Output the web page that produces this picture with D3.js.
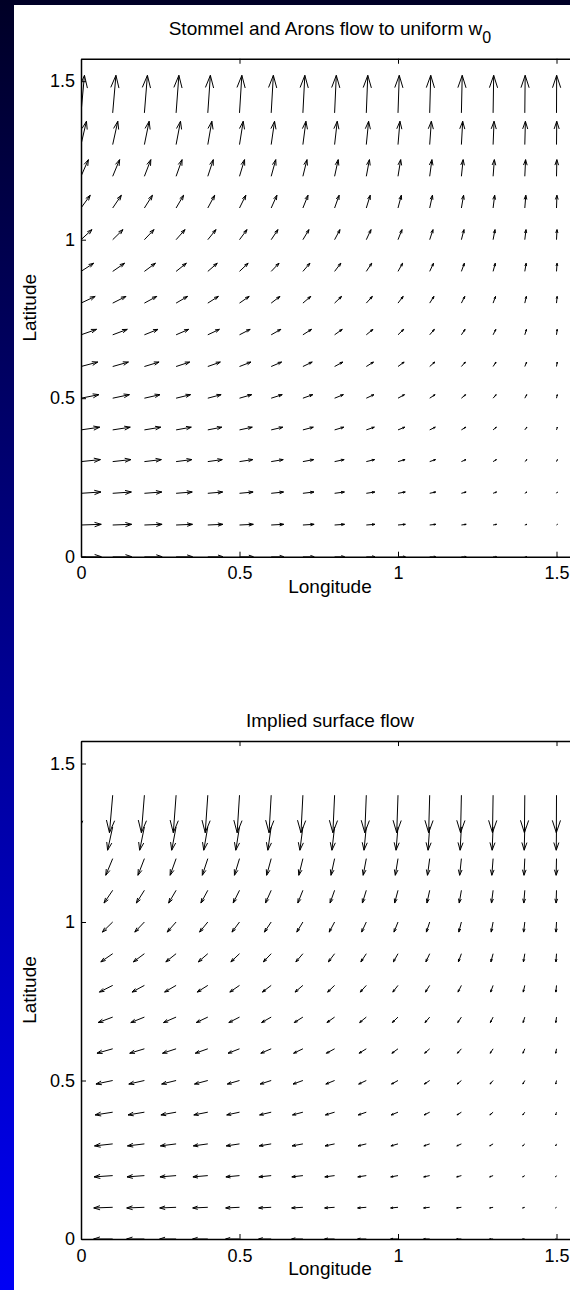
<!DOCTYPE html>
<html>
<head>
<meta charset="utf-8">
<script src="https://cdn.jsdelivr.net/npm/d3@7"></script>
<style>
  body { margin: 0; background: #fff; }
  svg { display: block; }
  text { font-family: "Liberation Sans", Arial, Helvetica, sans-serif; fill: #000; }
</style>
</head>
<body>
<svg id="fig" width="570" height="1290"></svg>
<script>
// Grid of arrow tails (radians of longitude / latitude)
const lonGrid = [0, 0.1, 0.2, 0.3, 0.4, 0.5, 0.6, 0.7, 0.8, 0.9, 1.0, 1.1, 1.2, 1.3, 1.4, 1.5];
const latGrid = [0, 0.1, 0.2, 0.3, 0.4, 0.5, 0.6, 0.7, 0.8, 0.9, 1.0, 1.1, 1.2, 1.3, 1.4];

// Deep flow components as drawn by the quiver (thousandths of a radian).
// Northward component is the same along each latitude row.
const vRow = [0, 2.1, 4.1, 6.3, 8.6, 11.2, 14.0, 17.2, 21.1, 25.8, 31.8, 40.2, 52.6, 73.6, 118.5];

// Eastward component, one row per latitude, one column per longitude
const uGrid = [
  [64.2, 60.1, 56.0, 51.9, 47.9, 43.8, 39.7, 35.6, 31.5, 27.4, 23.3, 19.2, 15.2, 11.1, 7.0, 2.9],
  [63.9, 59.8, 55.8, 51.7, 47.6, 43.6, 39.5, 35.4, 31.4, 27.3, 23.2, 19.2, 15.1, 11.0, 6.9, 2.9],
  [62.9, 58.9, 54.9, 50.9, 46.9, 42.9, 38.9, 34.9, 30.9, 26.9, 22.9, 18.9, 14.9, 10.9, 6.8, 2.8],
  [61.3, 57.4, 53.5, 49.6, 45.7, 41.8, 37.9, 34.0, 30.1, 26.2, 22.3, 18.4, 14.5, 10.6, 6.7, 2.8],
  [59.1, 55.4, 51.6, 47.9, 44.1, 40.3, 36.6, 32.8, 29.0, 25.3, 21.5, 17.7, 14.0, 10.2, 6.4, 2.7],
  [56.4, 52.8, 49.2, 45.6, 42.0, 38.4, 34.8, 31.2, 27.7, 24.1, 20.5, 16.9, 13.3, 9.7, 6.1, 2.5],
  [53.0, 49.6, 46.3, 42.9, 39.5, 36.1, 32.8, 29.4, 26.0, 22.6, 19.3, 15.9, 12.5, 9.1, 5.8, 2.4],
  [49.1, 46.0, 42.9, 39.7, 36.6, 33.5, 30.4, 27.2, 24.1, 21.0, 17.9, 14.7, 11.6, 8.5, 5.3, 2.2],
  [44.7, 41.9, 39.0, 36.2, 33.4, 30.5, 27.7, 24.8, 22.0, 19.1, 16.3, 13.4, 10.6, 7.7, 4.9, 2.0],
  [39.9, 37.4, 34.8, 32.3, 29.8, 27.2, 24.7, 22.1, 19.6, 17.1, 14.5, 12.0, 9.4, 6.9, 4.3, 1.8],
  [34.7, 32.5, 30.3, 28.1, 25.9, 23.7, 21.4, 19.2, 17.0, 14.8, 12.6, 10.4, 8.2, 6.0, 3.8, 1.6],
  [29.1, 27.3, 25.4, 23.6, 21.7, 19.9, 18.0, 16.1, 14.3, 12.4, 10.6, 8.7, 6.9, 5.0, 3.2, 1.3],
  [23.3, 21.8, 20.3, 18.8, 17.3, 15.9, 14.4, 12.9, 11.4, 9.9, 8.5, 7.0, 5.5, 4.0, 2.5, 1.1],
  [17.2, 16.1, 15.0, 13.9, 12.8, 11.7, 10.6, 9.5, 8.4, 7.3, 6.2, 5.2, 4.1, 3.0, 1.9, 0.8],
  [10.9, 10.2, 9.5, 8.8, 8.1, 7.4, 6.8, 6.1, 5.4, 4.7, 4.0, 3.3, 2.6, 1.9, 1.2, 0.5]
];

const tickValues = [0, 0.5, 1, 1.5];
const tickLabels = ["0", "0.5", "1", "1.5"];
const lonMax = 1.5708;
const latMax = 1.5708;

const svg = d3.select("#fig");

// Slide background: white page on a blue gradient frame
const defs = svg.append("defs");
const grad = defs.append("linearGradient")
  .attr("id", "slideBg").attr("x1", 0).attr("y1", 0).attr("x2", 0).attr("y2", 1);
grad.append("stop").attr("offset", 0).attr("stop-color", "rgb(0,0,38)");
grad.append("stop").attr("offset", 1).attr("stop-color", "rgb(0,0,245)");
svg.append("rect").attr("width", 570).attr("height", 1290).attr("fill", "url(#slideBg)");
svg.append("rect").attr("x", 14).attr("y", 5).attr("width", 556).attr("height", 1285).attr("fill", "#fff");

const AX_LEFT = 81;
const PX_PER_RAD = 317;
const HEAD_A = 0.33, HEAD_B = 0.33;

function drawPanel(cfg) {
  const x = d3.scaleLinear().domain([0, lonMax]).range([AX_LEFT, AX_LEFT + PX_PER_RAD * lonMax]);
  const y = d3.scaleLinear().domain([0, latMax]).range([cfg.bottom, cfg.bottom - PX_PER_RAD * latMax]);
  const g = svg.append("g");

  const clipId = "clip-" + cfg.id;
  defs.append("clipPath").attr("id", clipId)
    .append("rect")
    .attr("x", x(0)).attr("y", y(latMax))
    .attr("width", x(lonMax) - x(0)).attr("height", y(0) - y(latMax));

  // Quiver arrows: shaft from the tail plus an open two-stroke head
  const arrows = [];
  latGrid.forEach((lat, i) => {
    lonGrid.forEach((lon, j) => {
      const u = cfg.sign * uGrid[i][j] / 1000 * cfg.scale;
      const v = cfg.sign * vRow[i] / 1000 * cfg.scale;
      arrows.push({ lon, lat, u, v });
    });
  });
  const arrowPath = d => {
    const tx = d.lon + d.u, ty = d.lat + d.v;
    const h1x = tx - HEAD_A * (d.u + HEAD_B * d.v), h1y = ty - HEAD_A * (d.v - HEAD_B * d.u);
    const h2x = tx - HEAD_A * (d.u - HEAD_B * d.v), h2y = ty - HEAD_A * (d.v + HEAD_B * d.u);
    return `M${x(d.lon)},${y(d.lat)}L${x(tx)},${y(ty)}` +
           `M${x(h1x)},${y(h1y)}L${x(tx)},${y(ty)}L${x(h2x)},${y(h2y)}`;
  };
  g.append("g").attr("clip-path", `url(#${clipId})`)
    .selectAll("path").data(arrows).join("path")
    .attr("d", arrowPath)
    .attr("fill", "none").attr("stroke", "#000").attr("stroke-width", 1);

  // Axes box with inward ticks on all four sides
  const fmt = (d) => tickLabels[tickValues.indexOf(d)];
  const styleAxis = sel => {
    sel.select(".domain").attr("stroke", "#000").attr("stroke-width", 1.5);
    sel.selectAll(".tick line").attr("stroke", "#000").attr("stroke-width", 1);
    sel.selectAll("text").attr("font-size", 18).attr("font-family", null).attr("fill", "#000");
  };
  g.append("g").attr("transform", `translate(0,${y(0)})`)
    .call(d3.axisBottom(x).tickValues(tickValues).tickFormat(fmt).tickSizeInner(-5).tickSizeOuter(0).tickPadding(10))
    .call(styleAxis);
  g.append("g").attr("transform", `translate(0,${y(latMax)})`)
    .call(d3.axisTop(x).tickValues(tickValues).tickFormat("").tickSizeInner(-5).tickSizeOuter(0))
    .call(styleAxis);
  g.append("g").attr("transform", `translate(${x(0)},0)`)
    .call(d3.axisLeft(y).tickValues(tickValues).tickFormat(fmt).tickSizeInner(-5).tickSizeOuter(0).tickPadding(6))
    .call(styleAxis);
  g.append("g").attr("transform", `translate(${x(lonMax)},0)`)
    .call(d3.axisRight(y).tickValues(tickValues).tickFormat("").tickSizeInner(-5).tickSizeOuter(0))
    .call(styleAxis);

  // Title, axis labels
  const cx = (x(0) + x(lonMax)) / 2;
  const title = g.append("text").attr("x", cx).attr("y", cfg.titleY)
    .attr("text-anchor", "middle").attr("font-size", 19).text(cfg.title);
  if (cfg.titleSub) {
    title.append("tspan").attr("dy", 8).attr("font-size", 16).text(cfg.titleSub);
  }
  g.append("text").attr("x", cx).attr("y", y(0) + 36)
    .attr("text-anchor", "middle").attr("font-size", 19).text("Longitude");
  g.append("text")
    .attr("transform", `translate(36,${(y(0) + y(latMax)) / 2}) rotate(-90)`)
    .attr("text-anchor", "middle").attr("font-size", 19).text("Latitude");
}

drawPanel({ id: "deep", bottom: 556.7, sign: 1, scale: 1,
  title: "Stommel and Arons flow to uniform w", titleSub: "0", titleY: 35 });
drawPanel({ id: "surface", bottom: 1239, sign: -1, scale: 1,
  title: "Implied surface flow", titleY: 727 });
</script>
</body>
</html>
